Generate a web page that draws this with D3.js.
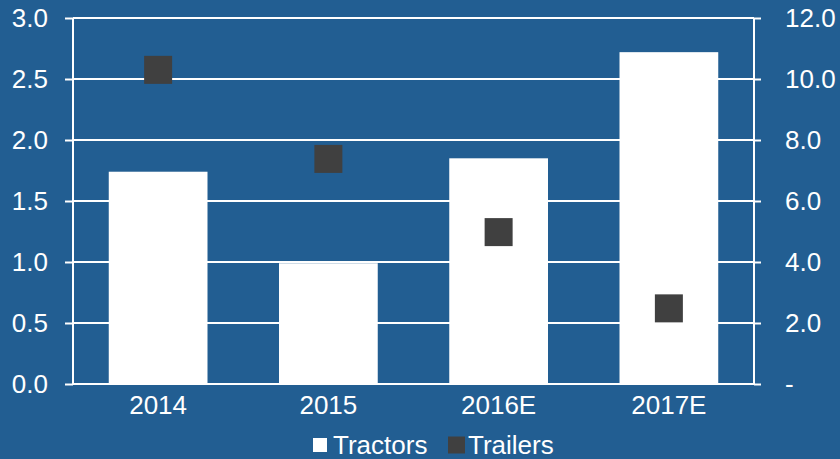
<!DOCTYPE html>
<html>
<head>
<meta charset="utf-8">
<script src="https://cdn.jsdelivr.net/npm/d3@7"></script>
<style>
  body { margin: 0; background: #225e92; }
  svg { display: block; font-family: "Liberation Sans", Arial, sans-serif; }
</style>
</head>
<body>
<svg id="chart"></svg>
<script>
const years = ['2014', '2015', '2016E', '2017E'];
const tractors = [1.74, 0.99, 1.85, 2.72];
const trailers = [10.3, 7.38, 4.98, 2.48];
const leftTicks = [0, 0.5, 1, 1.5, 2, 2.5, 3];
const rightTicks = [0, 2, 4, 6, 8, 10, 12];

const width = 840, height = 459;
const margin = { top: 18, right: 86, bottom: 75, left: 73 };
const bg = '#225e92';
const fontSize = '26px';

const svg = d3.select('#chart').attr('width', width).attr('height', height);
svg.append('rect').attr('width', width).attr('height', height).attr('fill', bg);

const x = d3.scaleBand().domain(years)
  .range([margin.left, width - margin.right])
  .paddingInner(0.42).paddingOuter(0.21);
const y = d3.scaleLinear().domain([0, 3]).range([height - margin.bottom, margin.top]);
const y2 = d3.scaleLinear().domain([0, 12]).range([height - margin.bottom, margin.top]);

// gridlines
svg.append('g').selectAll('line').data(leftTicks).join('line')
  .attr('x1', margin.left).attr('x2', width - margin.right)
  .attr('y1', d => y(d)).attr('y2', d => y(d))
  .attr('stroke', '#fff').attr('stroke-width', 2);

// bars
svg.append('g').selectAll('rect').data(tractors).join('rect')
  .attr('x', (d, i) => x(years[i]))
  .attr('width', x.bandwidth())
  .attr('y', d => y(d))
  .attr('height', d => y(0) - y(d))
  .attr('fill', '#fff');

// left axis
const yAxis = d3.axisLeft(y).tickValues(leftTicks).tickFormat(d3.format('.1f')).tickSize(8).tickPadding(17);
const gl = svg.append('g').attr('transform', `translate(${margin.left},0)`).call(yAxis);

// right axis
const y2Axis = d3.axisRight(y2).tickValues(rightTicks)
  .tickFormat(d => d === 0 ? '-' : d3.format('.1f')(d)).tickSize(7).tickPadding(24);
const gr = svg.append('g').attr('transform', `translate(${width - margin.right},0)`).call(y2Axis);

// bottom axis
const xAxis = d3.axisBottom(x).tickSize(0).tickPadding(12);
const gb = svg.append('g').attr('transform', `translate(0,${y(0)})`).call(xAxis);

[gl, gr, gb].forEach(g => {
  g.selectAll('path.domain').attr('stroke', '#fff').attr('stroke-width', 2);
  g.selectAll('.tick line').attr('stroke', '#fff').attr('stroke-width', 2);
  g.selectAll('text').attr('fill', '#fff').style('font-size', fontSize);
});
gl.select('path.domain').attr('d', `M0,${y(3)}V${y(0)}`);
gr.select('path.domain').attr('d', `M0,${y2(12)}V${y2(0)}`);
gb.select('path.domain').attr('d', `M${margin.left},0H${width - margin.right}`);

// trailer markers
const sq = 28;
svg.append('g').selectAll('rect').data(trailers).join('rect')
  .attr('x', (d, i) => x(years[i]) + x.bandwidth() / 2 - sq / 2)
  .attr('y', d => y2(d) - sq / 2)
  .attr('width', sq).attr('height', sq)
  .attr('fill', '#404040');

// legend
const legend = [
  { name: 'Tractors', color: '#fff', x: 313, size: 14, tx: 333 },
  { name: 'Trailers', color: '#404040', x: 448, size: 17, tx: 468 }
];
const lg = svg.append('g');
lg.selectAll('rect').data(legend).join('rect')
  .attr('x', d => d.x).attr('y', d => 445 - d.size / 2)
  .attr('width', d => d.size).attr('height', d => d.size)
  .attr('fill', d => d.color);
lg.selectAll('text').data(legend).join('text')
  .attr('x', d => d.tx).attr('y', 454)
  .attr('fill', '#fff').style('font-size', fontSize)
  .text(d => d.name);
</script>
</body>
</html>
